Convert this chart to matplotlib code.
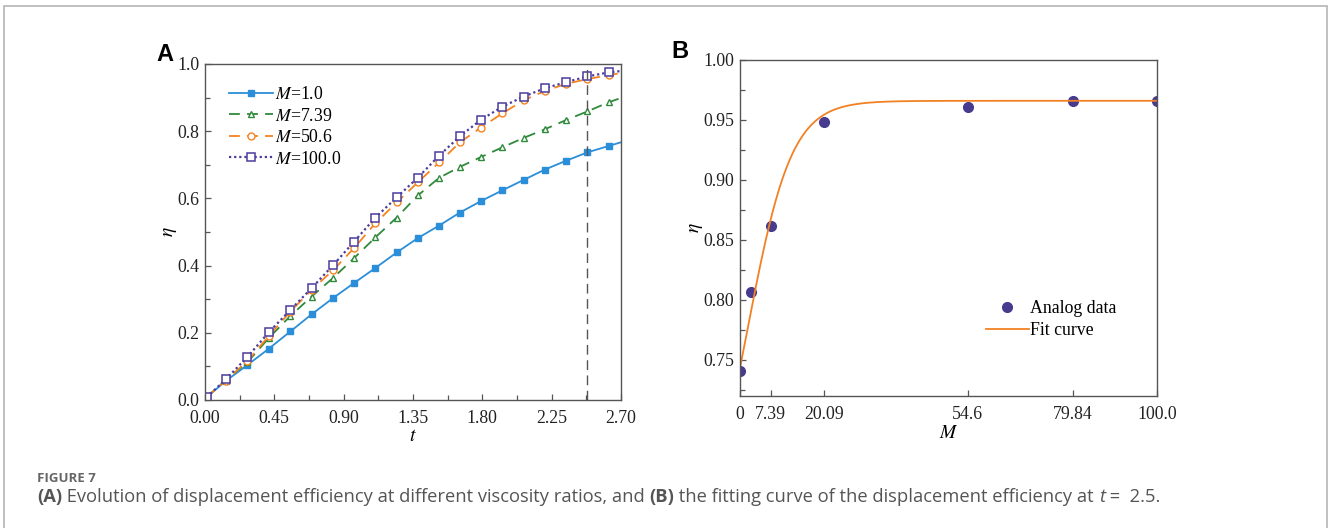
import numpy as np
import matplotlib
matplotlib.use('Agg')
import matplotlib.pyplot as plt
from matplotlib.patches import Rectangle
from matplotlib.ticker import MultipleLocator

plt.rcParams['font.family'] = ['Liberation Serif', 'DejaVu Serif']
plt.rcParams['mathtext.fontset'] = 'stix'

# --- panel A data ---
t = [0.01, 0.136, 0.275, 0.415, 0.554, 0.692, 0.833, 0.967, 1.106, 1.244,
     1.382, 1.519, 1.655, 1.791, 1.930, 2.068, 2.207, 2.343, 2.482, 2.620, 2.70]
eta_m1 = [0.008, 0.057, 0.104, 0.153, 0.204, 0.255, 0.304, 0.348, 0.393, 0.439,
          0.482, 0.519, 0.558, 0.592, 0.624, 0.655, 0.686, 0.712, 0.737, 0.756, 0.767]
eta_m739 = [0.008, 0.060, 0.112, 0.185, 0.250, 0.308, 0.364, 0.422, 0.484, 0.543,
            0.609, 0.661, 0.694, 0.723, 0.752, 0.780, 0.806, 0.833, 0.859, 0.886, 0.899]
eta_m506 = [0.008, 0.058, 0.116, 0.191, 0.263, 0.328, 0.387, 0.452, 0.526, 0.588,
            0.648, 0.707, 0.767, 0.811, 0.853, 0.892, 0.920, 0.941, 0.955, 0.967, 0.973]
eta_m100 = [0.008, 0.062, 0.128, 0.202, 0.268, 0.333, 0.402, 0.471, 0.543, 0.603,
            0.662, 0.727, 0.785, 0.834, 0.873, 0.903, 0.928, 0.946, 0.963, 0.975, 0.979]
series_labels = ['$M$=1.0', '$M$=7.39', '$M$=50.6', '$M$=100.0']
t_mark = 2.48

# --- panel B data ---
M_data = [0.0, 2.72, 7.39, 20.09, 54.6, 79.84, 100.0]
eta_data = [0.741, 0.807, 0.862, 0.948, 0.961, 0.966, 0.966]
M_ticks = [0, 7.39, 20.09, 54.6, 79.84, 100.0]
M_ticklabels = ['0', '7.39', '20.09', '54.6', '79.84', '100.0']
# Boltzmann fit parameters
fit_A1, fit_A2, fit_x0, fit_dx = 0.585, 0.966, 1.8, 5.3

W, H = 1330, 528
fig = plt.figure(figsize=(W / 100, H / 100), dpi=100)

# frame around the figure
fig.patches.append(Rectangle((4 / W, -0.1), 1323 / W, 1.1 - 6 / H,
                             transform=fig.transFigure, fill=False,
                             edgecolor='#b5b5b5', lw=1.2))

spine_c = '#555555'
fs = 12.8

def style_axes(ax):
    for s in ax.spines.values():
        s.set_color(spine_c)
        s.set_linewidth(1.0)
    ax.tick_params(which='both', direction='in', colors=spine_c,
                   labelcolor='#222222', labelsize=fs, top=False, right=False)
    ax.tick_params(which='major', length=4, width=0.9, pad=4)
    ax.tick_params(which='minor', length=3.5, width=0.9)
    ax.tick_params(axis='x', which='major', pad=7)

# ---------------- panel A ----------------
axA = fig.add_axes([205 / W, 1 - 400 / H, 416 / W, 336 / H])
style_axes(axA)
mk = slice(0, 20)
axA.plot(t, eta_m1, '-', color='#2b8ed8', lw=1.3, marker='s', ms=5,
         mfc='#2b8ed8', mec='#2b8ed8', markevery=mk, label=series_labels[0])
axA.plot(t, eta_m739, color='#2f8a3c', lw=1.3, dashes=(6, 4), marker='^', ms=5,
         mfc='white', mec='#2f8a3c', mew=1.0, markevery=mk, label=series_labels[1])
axA.plot(t, eta_m506, color='#f5841f', lw=1.3, dashes=(6, 4), marker='o', ms=5,
         mfc='white', mec='#f5841f', mew=1.0, markevery=mk, label=series_labels[2])
axA.plot(t, eta_m100, color='#4b3c9e', lw=1.6, linestyle=(0, (1, 1.3)), marker='s', ms=5.5,
         mfc='white', mec='#4b3c9e', mew=1.1, markevery=mk, label=series_labels[3])
axA.axvline(t_mark, color='#555555', lw=1.0, dashes=(7, 4))
axA.set_xlim(0, 2.7)
axA.set_ylim(0, 1.0)
axA.xaxis.set_major_locator(MultipleLocator(0.45))
axA.xaxis.set_minor_locator(MultipleLocator(0.225))
axA.yaxis.set_major_locator(MultipleLocator(0.2))
axA.yaxis.set_minor_locator(MultipleLocator(0.1))
axA.xaxis.set_major_formatter(matplotlib.ticker.FormatStrFormatter('%.2f'))
axA.yaxis.set_major_formatter(matplotlib.ticker.FormatStrFormatter('%.1f'))
axA.set_xlabel('$t$', fontsize=14, labelpad=1)
axA.set_ylabel('$\\eta$', fontsize=14, labelpad=-1)
axA.legend(loc='upper left', bbox_to_anchor=(0.04, 0.955), frameon=False,
           fontsize=fs, handlelength=2.5, handletextpad=0.1, labelspacing=0.25,
           borderaxespad=0)

# ---------------- panel B ----------------
axB = fig.add_axes([740 / W, 1 - 396 / H, 417 / W, 336 / H])
style_axes(axB)
M_fit = np.linspace(0, 100, 600)
eta_fit = fit_A2 + (fit_A1 - fit_A2) / (1 + np.exp((M_fit - fit_x0) / fit_dx))
axB.plot(M_data, eta_data, 'o', color='#463b8e', ms=7, label='Analog data')
axB.plot(M_fit, eta_fit, '-', color='#f28123', lw=1.3, label='Fit curve')
axB.set_xlim(0, 100)
axB.set_ylim(0.72, 1.0)
axB.set_xticks(M_ticks)
axB.set_xticklabels(M_ticklabels)
axB.yaxis.set_major_locator(MultipleLocator(0.05))
axB.yaxis.set_minor_locator(MultipleLocator(0.025))
axB.yaxis.set_major_formatter(matplotlib.ticker.FormatStrFormatter('%.2f'))
axB.set_xlabel('$M$', fontsize=14, labelpad=2)
axB.set_ylabel('$\\eta$', fontsize=14, labelpad=-1)
axB.legend(loc='upper left', bbox_to_anchor=(0.573, 0.307), frameon=False,
           fontsize=fs, handlelength=2.4, handletextpad=0.1, labelspacing=0.3,
           borderaxespad=0)

# panel letters
fig.text(156 / W, 1 - 61 / H, 'A', fontsize=17, fontweight='bold',
         family='Liberation Sans', color='black')
fig.text(671 / W, 1 - 58 / H, 'B', fontsize=17, fontweight='bold',
         family='Liberation Sans', color='black')

# caption
fig.text(37 / W, 1 - 482 / H, 'FIGURE 7', fontsize=9.5, fontweight='bold',
         family='Open Sans', color='#666666')

cap_parts = [
    ('(A)', 'bold', 'normal'),
    (' Evolution of displacement efficiency at different viscosity ratios, and ', 'normal', 'normal'),
    ('(B)', 'bold', 'normal'),
    (' the fitting curve of the displacement efficiency at ', 'normal', 'normal'),
    ('t', 'normal', 'italic'),
    (' =  2.5.', 'normal', 'normal'),
]
renderer = fig.canvas.get_renderer()
x = 37.0
cap_fs = 13.2
for txt, wt, st in cap_parts:
    probe = fig.text(0, 0, 'X' + txt + 'X', fontsize=cap_fs, fontweight=wt,
                     fontstyle=st, family='Open Sans')
    ref = fig.text(0, 0, 'XX', fontsize=cap_fs, fontweight=wt,
                   fontstyle=st, family='Open Sans')
    w = probe.get_window_extent(renderer).width - ref.get_window_extent(renderer).width
    probe.remove()
    ref.remove()
    fig.text(x / W, 1 - 502 / H, txt, fontsize=cap_fs, fontweight=wt,
             fontstyle=st, family='Open Sans', color='#555555')
    x += w

fig.savefig('out.png', dpi=100)
